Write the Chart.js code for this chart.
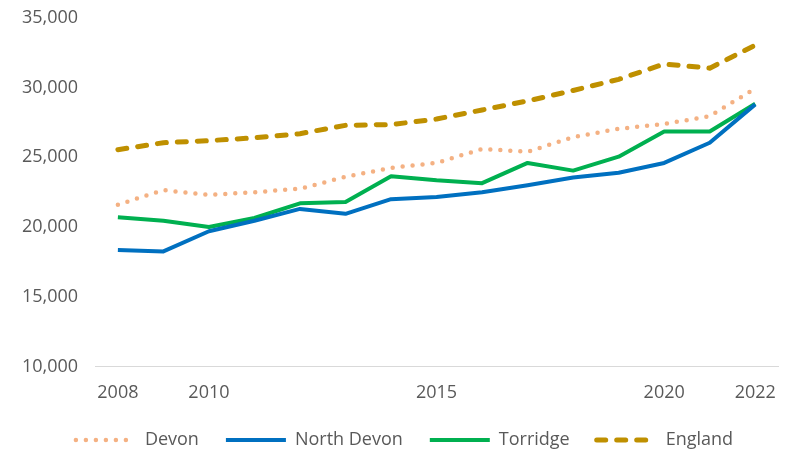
<!DOCTYPE html>
<html>
<head>
<meta charset="utf-8">
<script src="https://cdn.jsdelivr.net/npm/chart.js@4"></script>
<style>
  html, body { margin: 0; padding: 0; background: #ffffff; }
  #wrap { width: 785px; height: 453px; position: relative; }
</style>
</head>
<body>
<div id="wrap"><canvas id="c" width="785" height="453"></canvas></div>
<script>
const years = ['2008','2009','2010','2011','2012','2013','2014','2015','2016','2017','2018','2019','2020','2021','2022'];
const shownYears = ['2008','2010','2015','2020','2022'];
const devon = [21600, 22650, 22300, 22500, 22750, 23600, 24250, 24600, 25600, 25400, 26450, 27050, 27400, 27950, 29950];
const northDevon = [18350, 18250, 19700, 20450, 21300, 20950, 22000, 22150, 22500, 23000, 23550, 23900, 24600, 26050, 28800];
const torridge = [20700, 20450, 20000, 20650, 21700, 21800, 23650, 23350, 23150, 24600, 24050, 25050, 26850, 26850, 28850];
const england = [25550, 26050, 26200, 26400, 26700, 27300, 27350, 27750, 28400, 29050, 29800, 30600, 31700, 31400, 33050];
const seriesNames = ['Devon', 'North Devon', 'Torridge', 'England'];
const yMin = 10000, yMax = 35000, yStep = 5000;

const FONT = "'Open Sans', sans-serif";
const TEXT = '#595959';

const datasets = [
  { label: seriesNames[0], data: devon, borderColor: '#F4B183', borderWidth: 4.5, borderDash: [0, 10], borderCapStyle: 'round' },
  { label: seriesNames[1], data: northDevon, borderColor: '#0070C0', borderWidth: 4, borderDash: [], borderCapStyle: 'butt' },
  { label: seriesNames[2], data: torridge, borderColor: '#00B050', borderWidth: 4, borderDash: [], borderCapStyle: 'butt' },
  { label: seriesNames[3], data: england, borderColor: '#BF9000', borderWidth: 5, borderDash: [9, 11], borderCapStyle: 'round' }
].map(d => Object.assign(d, {
  backgroundColor: d.borderColor, pointRadius: 0, pointHoverRadius: 0, tension: 0, fill: false, borderJoinStyle: 'round'
}));

// legend: keep wide horizontal spacing but little vertical room, and centre it like the reference
const legendTrim = {
  id: 'legendTrim',
  beforeLayout(chart) {
    const lg = chart.legend;
    if (lg && !lg._trimmed) {
      const orig = lg.fit;
      lg.fit = function () { orig.call(this); this.height = Math.max(0, this.height - 22); };
      lg._trimmed = true;
    }
  },
  afterLayout(chart) {
    const lg = chart.legend;
    if (!lg) return;
    lg.top = 404; lg.bottom = 453; lg.height = 49;
    lg.left += 13; lg.right += 13;
  }
};

new Chart(document.getElementById('c'), {
  type: 'line',
  data: { labels: years, datasets },
  options: {
    responsive: false,
    animation: false,
    events: [],
    layout: { padding: { left: 5, right: 7, top: 18, bottom: 0 } },
    plugins: {
      tooltip: { enabled: false },
      legend: {
        position: 'bottom',
        labels: {
          usePointStyle: true,
          pointStyleWidth: 60,
          boxHeight: 18,
          padding: 27,
          color: TEXT,
          font: { family: FONT, size: 18 },
          generateLabels(chart) {
            return chart.data.datasets.map((ds, i) => ({
              text: ds.label,
              fillStyle: ds.borderColor,
              strokeStyle: ds.borderColor,
              lineWidth: ds.borderWidth,
              lineDash: ds.borderDash,
              lineCap: ds.borderCapStyle,
              pointStyle: 'line',
              fontColor: TEXT,
              hidden: false,
              datasetIndex: i
            }));
          }
        }
      }
    },
    scales: {
      x: {
        type: 'category',
        offset: true,
        grid: { display: false, drawTicks: false },
        border: { display: true, color: '#D9D9D9', width: 1 },
        afterFit(scale) { scale.paddingLeft = 0; scale.paddingRight = 0; },
        ticks: {
          autoSkip: false, maxRotation: 0, padding: 16,
          color: TEXT, font: { family: FONT, size: 18 },
          callback(value) {
            const lab = this.getLabelForValue(value);
            return shownYears.includes(lab) ? lab : '';
          }
        }
      },
      y: {
        min: yMin, max: yMax,
        grid: { display: false, drawTicks: false },
        border: { display: false },
        afterFit(scale) { scale.paddingTop = 0; scale.paddingBottom = 0; },
        ticks: {
          stepSize: yStep, padding: 17,
          color: TEXT, font: { family: FONT, size: 18 },
          callback(v) { return Number(v).toLocaleString('en-US'); }
        }
      }
    }
  },
  plugins: [legendTrim]
});
</script>
</body>
</html>
